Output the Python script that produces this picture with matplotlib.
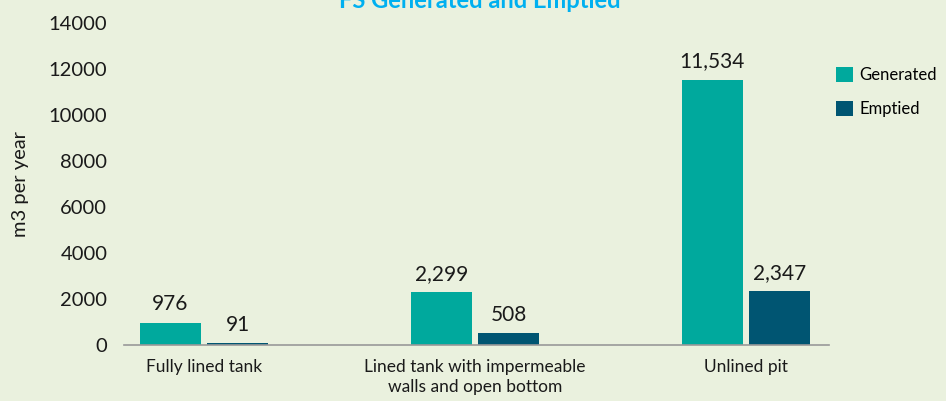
import matplotlib.pyplot as plt
import numpy as np

plt.rcParams['font.family'] = ['Lato', 'DejaVu Sans']

categories = ['Fully lined tank', 'Lined tank with impermeable\nwalls and open bottom', 'Unlined pit']
generated = [976, 2299, 11534]
emptied = [91, 508, 2347]
yticks = [0, 2000, 4000, 6000, 8000, 10000, 12000, 14000]

bg = '#EAF1DE'
c_gen = '#00A99D'
c_emp = '#005572'

fig = plt.figure(figsize=(9.46, 4.01), dpi=100, facecolor=bg)
ax = fig.add_axes([124 / 946, 56 / 401, 705 / 946, 322 / 401], facecolor=bg)

x = np.arange(len(categories))
w = 0.225
off = 0.124
b1 = ax.bar(x - off, generated, w, color=c_gen, label='Generated')
b2 = ax.bar(x + off, emptied, w, color=c_emp, label='Emptied')

for bars in (b1, b2):
    for b in bars:
        ax.annotate(f'{b.get_height():,.0f}', (b.get_x() + b.get_width() / 2, b.get_height()),
                    xytext=(0, 6), textcoords='offset points', ha='center', va='bottom',
                    fontsize=15, color='#1a1a1a')

ax.set_xlim(-0.295, 2.306)
ax.set_ylim(0, 14000)
ax.set_yticks(yticks)
ax.set_yticklabels([str(t) for t in yticks], fontsize=14.5, color='#1a1a1a')
ax.set_xticks(x)
ax.set_xticklabels(categories, fontsize=12.5, color='#1a1a1a', linespacing=1.3)
ax.tick_params(axis='y', length=0, pad=12)
ax.tick_params(axis='x', length=0, pad=10)
for s in ('top', 'right', 'left'):
    ax.spines[s].set_visible(False)
ax.spines['bottom'].set_color('#999999')
ax.spines['bottom'].set_linewidth(1.2)

ax.set_ylabel('m3 per year', fontsize=14.5, color='#1a1a1a', labelpad=14)

fig.legend(loc='upper left', bbox_to_anchor=(836 / 946, 334 / 401), frameon=False,
           fontsize=12, handlelength=1.0, handleheight=1.0, handletextpad=0.4,
           labelspacing=1.05, borderaxespad=0, borderpad=0)

fig.text(480 / 946, 1 - 8 / 401, 'FS Generated and Emptied', ha='center', va='baseline',
         fontsize=17, fontweight='bold', color='#00B0F0')

fig.savefig('out.png', dpi=100, facecolor=bg)
